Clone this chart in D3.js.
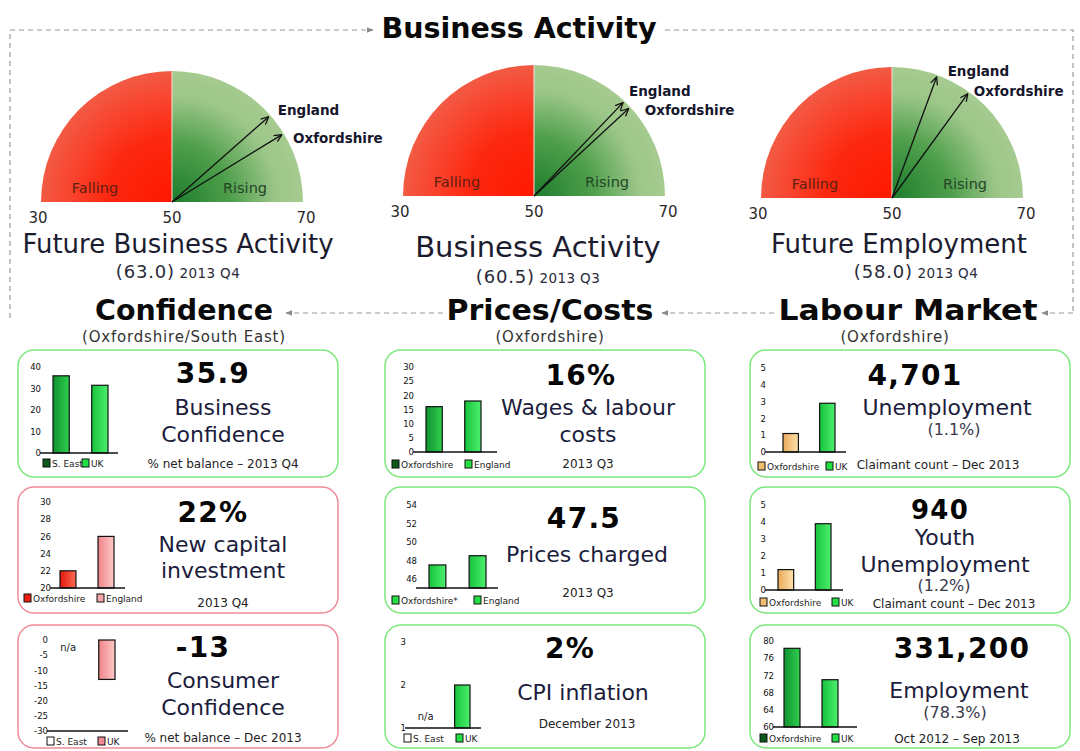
<!DOCTYPE html>
<html>
<head>
<meta charset="utf-8">
<script src="https://cdn.jsdelivr.net/npm/d3@7"></script>
<style>
  body { margin: 0; background: #fff; }
  svg { display: block; }
  text { font-family: "DejaVu Sans", Verdana, sans-serif; }
</style>
</head>
<body>
<script>
// ---------------- data ----------------
const gaugeTitles = ['Future Business Activity', 'Business Activity', 'Future Employment']
const gaugeOxfordshire = [63.0, 60.5, 58.0]
const gaugeEngland = [60.8, 59.7, 54.5]
const gaugePeriods = ['2013 Q4', '2013 Q3', '2013 Q4']
const gaugeTicks = [30, 50, 70]
const gaugeSides = ['Falling', 'Rising']

const sectionTitles = ['Confidence', 'Prices/Costs', 'Labour Market']
const sectionSubtitles = ['(Oxfordshire/South East)', '(Oxfordshire)', '(Oxfordshire)']

const panelHeadlines = ['35.9', '22%', '-13', '16%', '47.5', '2%', '4,701', '940', '331,200']
const panelLabels = [
  ['Business', 'Confidence'], ['New capital', 'investment'], ['Consumer', 'Confidence'],
  ['Wages & labour', 'costs'], ['Prices charged'], ['CPI inflation'],
  ['Unemployment'], ['Youth', 'Unemployment'], ['Employment']
]
const panelRates = ['', '', '', '', '', '', '(1.1%)', '(1.2%)', '(78.3%)']
const panelNotes = [
  '% net  balance – 2013 Q4', '2013 Q4', '% net balance – Dec 2013',
  '2013 Q3', '2013 Q3', 'December 2013',
  'Claimant count – Dec 2013', 'Claimant count – Dec 2013', 'Oct 2012 – Sep 2013'
]

const barCategories = [
  ['S. East', 'UK'], ['Oxfordshire', 'England'], ['S. East', 'UK'],
  ['Oxfordshire', 'England'], ['Oxfordshire*', 'England'], ['S. East', 'UK'],
  ['Oxfordshire', 'UK'], ['Oxfordshire', 'UK'], ['Oxfordshire', 'UK']
]
const barValues = [
  [35.9, 31.5], [22, 26], [null, -13],
  [16, 18], [47.5, 48.5], [null, 2],
  [1.1, 2.9], [1.2, 3.9], [78.3, 71.0]
]
const barDomains = [[0, 40], [20, 30], [-30, 0], [0, 30], [45, 54], [1, 3], [0, 5], [0, 5], [60, 80]]
const barTicks = [
  [0, 10, 20, 30, 40], [20, 22, 24, 26, 28, 30], [0, -5, -10, -15, -20, -25, -30],
  [0, 5, 10, 15, 20, 25, 30], [46, 48, 50, 52, 54], [1, 2, 3],
  [0, 1, 2, 3, 4, 5], [0, 1, 2, 3, 4, 5], [60, 64, 68, 72, 76, 80]
]

// ---------------- layout ----------------
const width = 1080
const height = 751

const gaugeCx = [172, 534, 892]
const gaugeCy = [202, 196, 198]
const gaugeR = 131
const gaugeTitleSize = [26, 29, 26]
const gaugeTitleX = [178, 538, 899]
const gaugeTitleY = [253, 257, 253]
const gaugeSubX = [178, 538, 916]
const gaugeSubY = [278, 283, 278]
// label offsets from the arrow tips: [england, oxfordshire]
const gaugeLabelOffset = [[[9, -2], [11, 8]], [[6, -7], [16, 7]], [[11, -1], [6, 2]]]

const sectionX = [184, 550, 908]
const sectionWidth = [178, 207, 259]
const sectionSubX = [184, 550, 895]

const colX = [18, 385, 750]
const rowY = [350, 487, 625]
const rowH = [127, 126, 123]
const panelW = 320
const panelBorder = ['#7ae87a', '#f08a98', '#f08a98', '#7ae87a', '#7ae87a', '#7ae87a', '#7ae87a', '#7ae87a', '#7ae87a']

// mini chart geometry, relative to the panel
const axisX = [[22, 100], [32, 107], [29, 110], [28, 112], [31, 113], [20, 96], [15, 96], [15, 93], [23, 107]]
const plotY = [[17, 103], [15, 101], [15, 106], [17, 102], [18, 101], [17, 103], [18, 102], [18, 103], [16, 102]]
const bandX = [[35, 90], [42, 96], [42, 97], [41, 96], [44, 101], [33, 85], [33, 85], [28, 81], [34, 88]]
const legendX = [[25, 64], [6, 79], [29, 80], [7, 80], [7, 89], [19, 71], [8, 76], [10, 82], [10, 82]]
const legendY = [113, 111, 116, 114, 113, 113, 116, 115, 113]
const barFill = [
  ['dark', 'bright'], ['red', 'pink'], ['pink', 'pink'],
  ['dark', 'bright'], ['bright', 'bright'], ['bright', 'bright'],
  ['tan', 'bright'], ['tan', 'bright'], ['dark', 'bright']
]
const legendFill = [
  ['#0b5a1a', '#22e044'], ['#ee1c10', '#f4a6ac'], ['#ffffff', '#ef8a96'],
  ['#0b5a1a', '#22e044'], ['#22e044', '#22e044'], ['#ffffff', '#22e044'],
  ['#f0c070', '#22e044'], ['#f0c070', '#22e044'], ['#0b5a1a', '#22e044']
]

// text positions, relative to the panel
const headX = [195, 195, 185, 196, 199, 185, 165, 190, 212]
const headY = [33, 35, 32, 35, 41, 33, 35, 32, 33]
const headSize = [28, 28, 28, 28, 28, 28, 28, 26, 28]
const labelX = [205, 205, 205, 203, 202, 198, 197, 195, 209]
const labelY = [[65, 92], [65, 91], [63, 90], [65, 92], [75], [75], [65], [58, 85], [73]]
const rateX = [0, 0, 0, 0, 0, 0, 204, 194, 205]
const rateY = [0, 0, 0, 0, 0, 0, 85, 104, 93]
const noteX = [205, 205, 205, 203, 203, 202, 188, 204, 207]
const noteY = [118, 120, 117, 118, 110, 103, 119, 121, 118]

const svg = d3.select('body')
  .append('svg')
  .attr('width', width)
  .attr('height', height)
  .attr('viewBox', [0, 0, width, height])

const defs = svg.append('defs')

defs.append('marker')
  .attr('id', 'frame-arrow')
  .attr('viewBox', '0 0 10 10')
  .attr('refX', 9).attr('refY', 5)
  .attr('markerWidth', 7).attr('markerHeight', 7)
  .attr('markerUnits', 'userSpaceOnUse')
  .attr('orient', 'auto')
  .append('path')
    .attr('d', 'M0,1 L10,5 L0,9 Z')
    .attr('fill', '#8a8a8a')

defs.append('marker')
  .attr('id', 'needle-arrow')
  .attr('viewBox', '0 0 10 10')
  .attr('refX', 9.5).attr('refY', 5)
  .attr('markerWidth', 9).attr('markerHeight', 9)
  .attr('markerUnits', 'userSpaceOnUse')
  .attr('orient', 'auto')
  .append('path')
    .attr('d', 'M1,1 L9.5,5 L1,9')
    .attr('fill', 'none')
    .attr('stroke', '#111')
    .attr('stroke-width', 1.4)

// bar gradients (left to right shading)
const barGradients = {
  dark: ['#10922f', '#2fcf50'],
  bright: ['#17c23c', '#4cf06c'],
  red: ['#e0180a', '#ff6a55'],
  pink: ['#ef8488', '#ffc8c8'],
  tan: ['#eaaa5a', '#ffe2ac']
}
Object.entries(barGradients).forEach(([key, c]) => {
  let lg = defs.append('linearGradient').attr('id', `bar-${key}`)
    .attr('x1', 0).attr('x2', 1).attr('y1', 0).attr('y2', 0)
  lg.append('stop').attr('offset', 0).attr('stop-color', c[0])
  lg.append('stop').attr('offset', 1).attr('stop-color', c[1])
})

// ---------------- dashed frame ----------------
const frame = svg.append('g')
  .attr('fill', 'none')
  .attr('stroke', '#9a9a9a')
  .attr('stroke-width', 1.2)
  .attr('stroke-dasharray', '5,4')

const frameLines = [
  [[10, 318], [10, 30], [373, 30]],
  [[665, 30], [1073, 30], [1073, 313]]
]
frame.selectAll('path.outline')
  .data(frameLines)
  .join('path')
    .attr('class', 'outline')
    .attr('d', d3.line())
    .attr('marker-end', (d, i) => i === 0 ? 'url(#frame-arrow)' : null)

const flowLines = [
  [[1073, 313], [1042, 313]],
  [[774, 313], [662, 313]],
  [[443, 313], [286, 313]]
]
frame.selectAll('path.flow')
  .data(flowLines)
  .join('path')
    .attr('class', 'flow')
    .attr('d', d3.line())
    .attr('marker-end', 'url(#frame-arrow)')

svg.append('text')
  .attr('x', 519).attr('y', 38)
  .attr('text-anchor', 'middle')
  .attr('font-size', 28)
  .attr('font-weight', 'bold')
  .attr('textLength', 275)
  .attr('lengthAdjust', 'spacingAndGlyphs')
  .attr('fill', '#0a0a0a')
  .text('Business Activity')

// ---------------- gauges ----------------
const angle = d3.scaleLinear().domain([30, 70]).range([Math.PI, 0])
const tickX = d3.scaleLinear().domain([30, 70]).range([-gaugeR - 3, gaugeR + 3])
const halfArc = d3.arc().innerRadius(0).outerRadius(gaugeR)

gaugeTitles.forEach((title, i) => {
  let g = svg.append('g').attr('transform', `translate(${gaugeCx[i]},${gaugeCy[i]})`)

  let red = defs.append('radialGradient').attr('id', `gauge-red-${i}`)
    .attr('gradientUnits', 'userSpaceOnUse')
    .attr('cx', 0).attr('cy', 0).attr('r', gaugeR)
  red.append('stop').attr('offset', 0).attr('stop-color', '#ff1800')
  red.append('stop').attr('offset', 0.5).attr('stop-color', '#fd2810')
  red.append('stop').attr('offset', 0.8).attr('stop-color', '#f84630')
  red.append('stop').attr('offset', 1).attr('stop-color', '#f25a44')

  let green = defs.append('radialGradient').attr('id', `gauge-green-${i}`)
    .attr('gradientUnits', 'userSpaceOnUse')
    .attr('cx', 0).attr('cy', 0).attr('r', gaugeR)
  green.append('stop').attr('offset', 0).attr('stop-color', '#1c7c2c')
  green.append('stop').attr('offset', 0.45).attr('stop-color', '#4f9f4c')
  green.append('stop').attr('offset', 0.8).attr('stop-color', '#9cc689')
  green.append('stop').attr('offset', 1).attr('stop-color', '#a6cb90')

  g.append('path')
    .attr('d', halfArc({startAngle: -Math.PI / 2, endAngle: 0}))
    .attr('fill', `url(#gauge-red-${i})`)
  g.append('path')
    .attr('d', halfArc({startAngle: 0, endAngle: Math.PI / 2}))
    .attr('fill', `url(#gauge-green-${i})`)
  g.append('line')
    .attr('x1', 0).attr('x2', 0).attr('y1', 0).attr('y2', -gaugeR)
    .attr('stroke', '#f4e0d8').attr('stroke-width', 1)

  g.selectAll('text.side')
    .data(gaugeSides)
    .join('text')
      .attr('class', 'side')
      .attr('x', (d, k) => k === 0 ? -77 : 73)
      .attr('y', -9)
      .attr('text-anchor', 'middle')
      .attr('font-size', 14.5)
      .attr('fill', (d, k) => k === 0 ? '#5e1e10' : '#244628')
      .text(d => d)

  // needles: england first, oxfordshire second
  let needles = [
    {name: 'England', value: gaugeEngland[i]},
    {name: 'Oxfordshire', value: gaugeOxfordshire[i]}
  ]
  needles.forEach((n, k) => {
    let a = angle(n.value)
    let len = gaugeR - 2
    let tx = len * Math.cos(a)
    let ty = -len * Math.sin(a)
    g.append('line')
      .attr('x1', 0).attr('y1', 0)
      .attr('x2', tx).attr('y2', ty)
      .attr('stroke', '#111')
      .attr('stroke-width', 1.3)
      .attr('marker-end', 'url(#needle-arrow)')
    g.append('text')
      .attr('x', tx + gaugeLabelOffset[i][k][0])
      .attr('y', ty + gaugeLabelOffset[i][k][1])
      .attr('font-size', 13.5)
      .attr('font-weight', 'bold')
      .attr('fill', '#16162c')
      .text(n.name)
  })

  g.selectAll('text.tick')
    .data(gaugeTicks)
    .join('text')
      .attr('class', 'tick')
      .attr('x', d => tickX(d))
      .attr('y', 21)
      .attr('text-anchor', 'middle')
      .attr('font-size', 15)
      .attr('fill', '#2a2a2a')
      .text(d => d)

  svg.append('text')
    .attr('x', gaugeTitleX[i]).attr('y', gaugeTitleY[i])
    .attr('text-anchor', 'middle')
    .attr('font-size', gaugeTitleSize[i])
    .attr('fill', '#1c1c30')
    .text(title)

  let sub = svg.append('text')
    .attr('x', gaugeSubX[i]).attr('y', gaugeSubY[i])
    .attr('text-anchor', 'middle')
    .attr('fill', '#2a2a3a')
  sub.append('tspan')
    .attr('font-size', 18)
    .attr('letter-spacing', 0.8)
    .text(`(${d3.format('.1f')(gaugeOxfordshire[i])})`)
  sub.append('tspan')
    .attr('font-size', 13.5)
    .attr('letter-spacing', 0.4)
    .text(' ' + gaugePeriods[i])
})

// ---------------- section headings ----------------
svg.selectAll('text.section')
  .data(sectionTitles)
  .join('text')
    .attr('class', 'section')
    .attr('x', (d, i) => sectionX[i])
    .attr('y', 320)
    .attr('text-anchor', 'middle')
    .attr('font-size', 28)
    .attr('font-weight', 'bold')
    .attr('textLength', (d, i) => sectionWidth[i])
    .attr('lengthAdjust', 'spacingAndGlyphs')
    .attr('fill', '#0a0a0a')
    .text(d => d)

svg.selectAll('text.section-sub')
  .data(sectionSubtitles)
  .join('text')
    .attr('class', 'section-sub')
    .attr('x', (d, i) => sectionSubX[i])
    .attr('y', 342)
    .attr('text-anchor', 'middle')
    .attr('font-size', 15)
    .attr('letter-spacing', 0.8)
    .attr('fill', '#333')
    .text(d => d)

// ---------------- panels ----------------
panelHeadlines.forEach((headline, i) => {
  let col = Math.floor(i / 3)
  let row = i % 3
  let g = svg.append('g').attr('transform', `translate(${colX[col]},${rowY[row]})`)

  g.append('rect')
    .attr('x', 0).attr('y', 0)
    .attr('width', panelW).attr('height', rowH[row])
    .attr('rx', 16)
    .attr('fill', '#fff')
    .attr('stroke', panelBorder[i])
    .attr('stroke-width', 1.5)

  drawMiniChart(g, i)

  g.append('text')
    .attr('x', headX[i]).attr('y', headY[i])
    .attr('text-anchor', 'middle')
    .attr('font-size', headSize[i])
    .attr('font-weight', 'bold')
    .attr('letter-spacing', 1.3)
    .attr('fill', '#050505')
    .text(headline)

  g.selectAll('text.label')
    .data(panelLabels[i])
    .join('text')
      .attr('class', 'label')
      .attr('x', labelX[i])
      .attr('y', (d, k) => labelY[i][k])
      .attr('text-anchor', 'middle')
      .attr('font-size', 22)
      .attr('fill', '#1c1c3c')
      .text(d => d)

  if (panelRates[i]) {
    g.append('text')
      .attr('x', rateX[i]).attr('y', rateY[i])
      .attr('text-anchor', 'middle')
      .attr('font-size', 16)
      .attr('fill', '#3a3a4a')
      .text(panelRates[i])
  }

  g.append('text')
    .attr('x', noteX[i]).attr('y', noteY[i])
    .attr('text-anchor', 'middle')
    .attr('font-family', '"Liberation Sans", Arial, sans-serif')
    .attr('font-size', 12)
    .attr('fill', '#222')
    .text(panelNotes[i])
})

// small two-bar chart at the left of a panel
function drawMiniChart (g, i) {
  let domain = barDomains[i]
  let y = d3.scaleLinear().domain(domain).range([plotY[i][1], plotY[i][0]])
  let x = d3.scaleBand()
    .domain(barCategories[i])
    .range(bandX[i])
    .paddingInner(0.58)
  let base = (domain[0] <= 0 && domain[1] >= 0) ? 0 : domain[0]
  let baseAtTop = y(base) < y(domain[0])

  g.append('g')
    .attr('transform', `translate(${axisX[i][0] + 1},0)`)
    .call(d3.axisLeft(y).tickValues(barTicks[i]).tickSize(0).tickPadding(0).tickFormat(d => String(d)))
    .call(a => a.select('.domain').remove())
    .call(a => a.selectAll('text')
      .attr('font-family', '"Liberation Sans", Arial, sans-serif')
      .attr('font-size', 8.5)
      .attr('fill', '#111'))

  let data = barCategories[i].map((c, k) => ({cat: c, value: barValues[i][k], fill: barFill[i][k]}))

  g.selectAll('rect.bar')
    .data(data.filter(d => d.value !== null))
    .join('rect')
      .attr('class', 'bar')
      .attr('x', d => x(d.cat))
      .attr('width', x.bandwidth())
      .attr('y', d => Math.min(y(base), y(d.value)))
      .attr('height', d => Math.abs(y(base) - y(d.value)))
      .attr('fill', d => `url(#bar-${d.fill})`)
      .attr('stroke', '#111')
      .attr('stroke-width', 1.2)

  g.selectAll('text.na')
    .data(data.filter(d => d.value === null))
    .join('text')
      .attr('class', 'na')
      .attr('x', d => x(d.cat) + x.bandwidth() / 2)
      .attr('y', baseAtTop ? y(base) + 11 : y(base) - 8)
      .attr('text-anchor', 'middle')
      .attr('font-family', '"Liberation Sans", Arial, sans-serif')
      .attr('font-size', 10)
      .attr('fill', '#222')
      .text('n/a')

  g.append('line')
    .attr('x1', axisX[i][0]).attr('x2', axisX[i][1])
    .attr('y1', y(domain[0])).attr('y2', y(domain[0]))
    .attr('stroke', '#111')
    .attr('stroke-width', 1.5)

  let legend = g.selectAll('g.legend')
    .data(data)
    .join('g')
      .attr('class', 'legend')
      .attr('transform', (d, k) => `translate(${legendX[i][k]},${legendY[i]})`)
  legend.append('rect')
    .attr('x', 0).attr('y', -4)
    .attr('width', 7).attr('height', 8)
    .attr('fill', (d, k) => legendFill[i][k])
    .attr('stroke', '#111')
    .attr('stroke-width', 1)
  legend.append('text')
    .attr('x', 9).attr('y', 3.5)
    .attr('font-family', '"Liberation Sans", Arial, sans-serif')
    .attr('font-size', 9)
    .attr('fill', '#222')
    .text(d => d.cat)
}
</script>
</body>
</html>
